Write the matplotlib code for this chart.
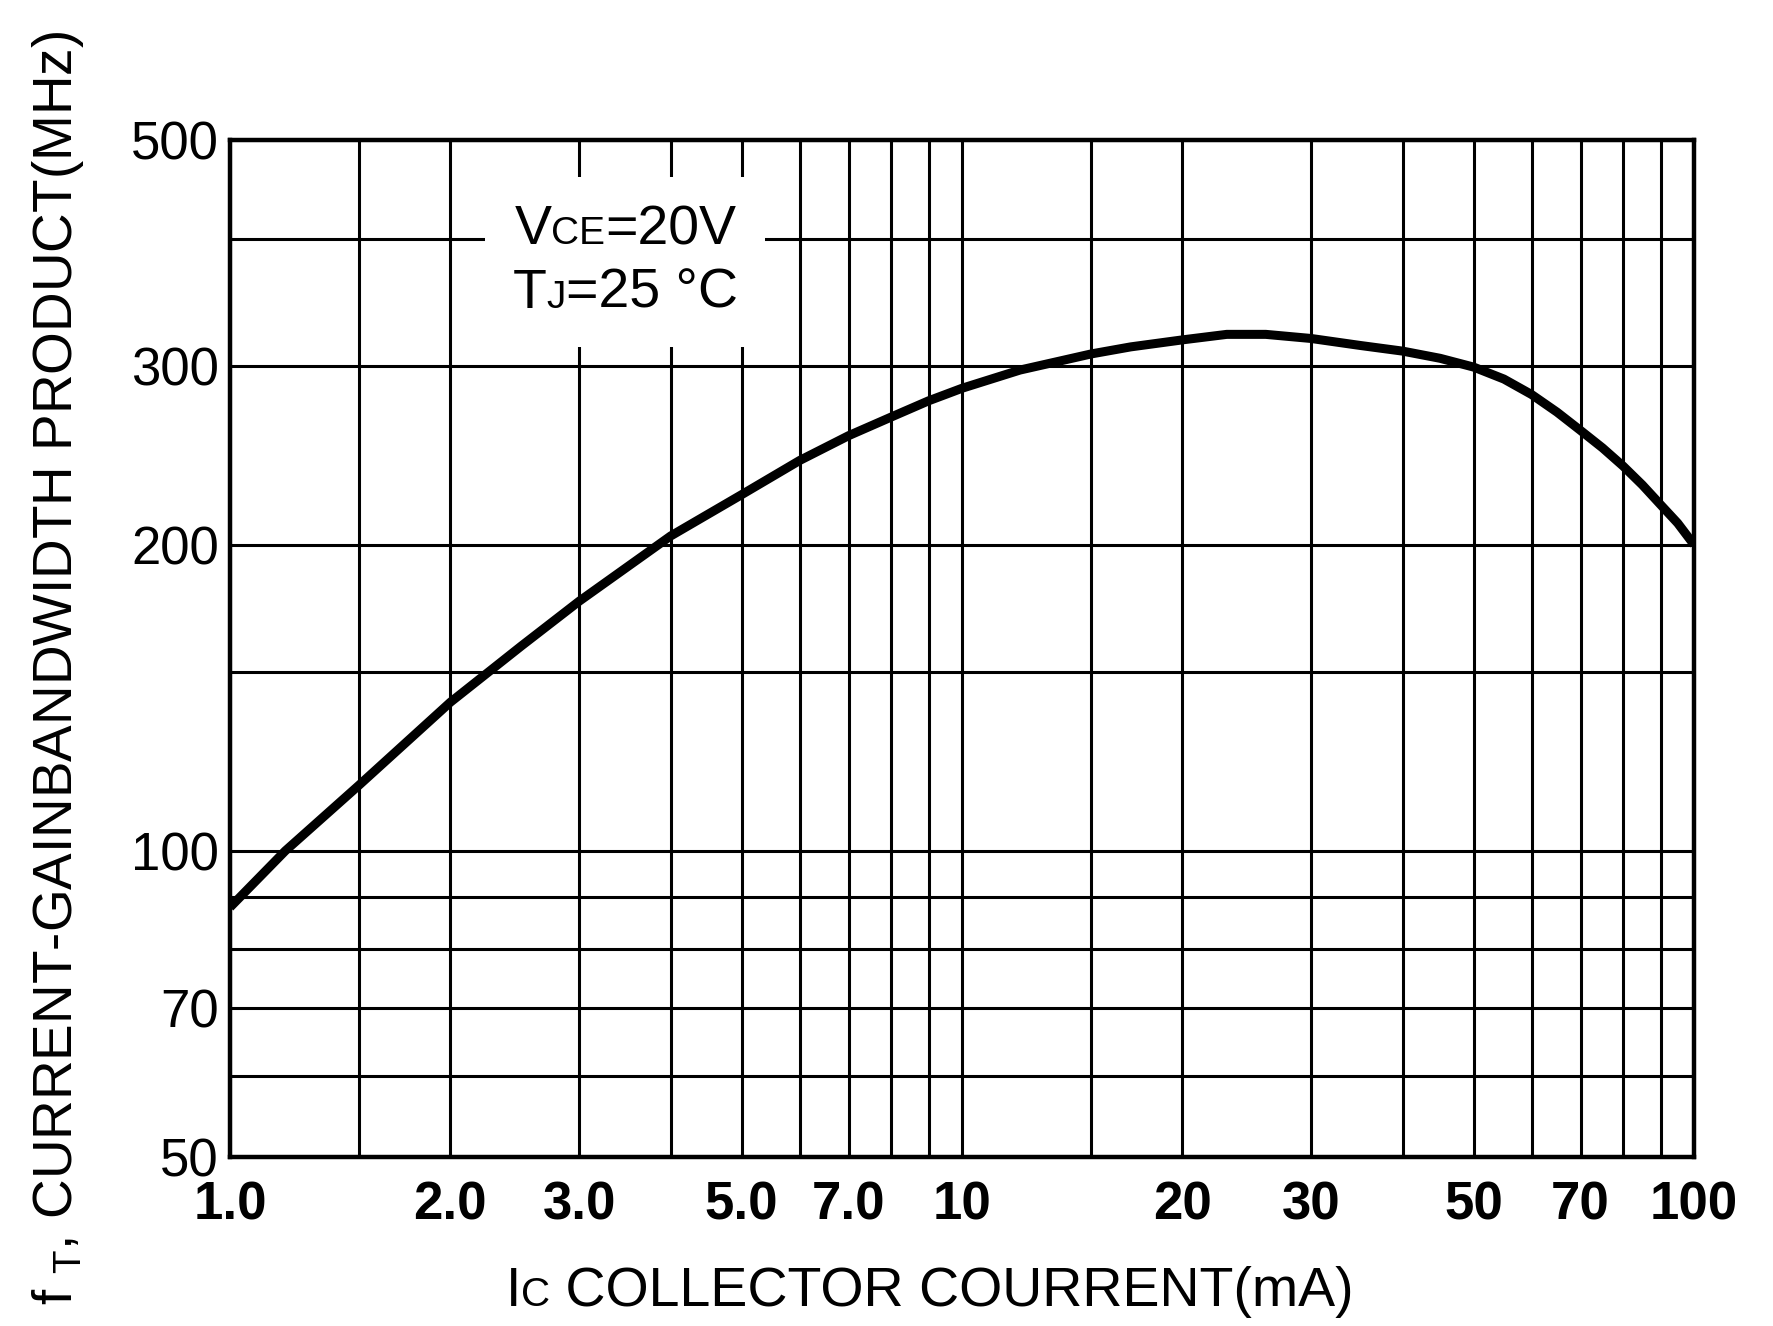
import numpy as np
import matplotlib
matplotlib.use("Agg")
import matplotlib.pyplot as plt
from matplotlib.ticker import FixedLocator, FixedFormatter, NullFormatter
from matplotlib.offsetbox import TextArea, HPacker, VPacker, AnchoredOffsetbox

FONT = ['Liberation Sans', 'DejaVu Sans']

# fT vs Ic
ic_ma = [1, 1.19, 1.5, 2, 2.5, 3, 4, 5, 6, 7, 8, 9, 10, 12, 15, 17, 20, 23, 26,
         30, 35, 40, 45, 50, 55, 60, 65, 70, 75, 80, 85, 90, 95, 100]
ft_mhz = [88, 100, 116, 140, 159, 176, 204, 224, 242, 256, 267, 277, 285, 297, 308, 313, 318, 322, 322,
          319, 314, 310, 305, 299, 291, 281, 270, 259, 249, 239, 229, 219, 210, 200]

x_major = [1, 2, 3, 5, 7, 10, 20, 30, 50, 70, 100]
x_labels = ['1.0', '2.0', '3.0', '5.0', '7.0', '10', '20', '30', '50', '70', '100']
x_minor = [1.5, 4, 6, 8, 9, 15, 40, 60, 80, 90]
y_major = [50, 70, 100, 200, 300, 500]
y_labels = ['50', '70', '100', '200', '300', '500']
y_minor = [60, 80, 90, 150, 400]

W, H = 1774, 1326
fig = plt.figure(figsize=(W / 100, H / 100), dpi=100)
ax = fig.add_axes([230 / W, 1 - 1157 / H, 1464 / W, 1017 / H])

ax.set_xscale('log')
ax.set_yscale('log')
ax.set_xlim(1, 100)
ax.set_ylim(50, 500)

ax.xaxis.set_major_locator(FixedLocator(x_major))
ax.xaxis.set_major_formatter(FixedFormatter(x_labels))
ax.xaxis.set_minor_locator(FixedLocator(x_minor))
ax.xaxis.set_minor_formatter(NullFormatter())
ax.yaxis.set_major_locator(FixedLocator(y_major))
ax.yaxis.set_major_formatter(FixedFormatter(y_labels))
ax.yaxis.set_minor_locator(FixedLocator(y_minor))
ax.yaxis.set_minor_formatter(NullFormatter())

ax.grid(which='both', color='black', lw=2.2)
ax.tick_params(which='both', length=0)
ax.tick_params(axis='x', pad=17)
ax.tick_params(axis='y', pad=8)
for lab in ax.get_xticklabels():
    lab.set_fontfamily(FONT)
    lab.set_fontsize(38)
    lab.set_fontweight('bold')
for lab in ax.get_yticklabels():
    lab.set_fontfamily(FONT)
    lab.set_fontsize(38)
for sp in ax.spines.values():
    sp.set_linewidth(3.2)

ax.plot(ic_ma, ft_mhz, color='black', lw=6.5, solid_capstyle='butt',
        solid_joinstyle='round', zorder=5)

# conditions box
def rich(parts):
    return HPacker(children=[TextArea(t, textprops=dict(size=s, family=FONT, color='black'))
                             for t, s in parts], align='baseline', pad=0, sep=0)

cond = VPacker(children=[rich([('V', 40), ('CE', 28), ('=20V', 40)]),
                         rich([('T', 40), ('J', 28), ('=25 °C', 40)])],
               align='center', pad=0, sep=8)
box = AnchoredOffsetbox(loc='center', child=cond, bbox_to_anchor=(0.270, 0.880),
                        bbox_transform=ax.transAxes, frameon=True, pad=0.55,
                        borderpad=0, prop=dict(size=36))
box.patch.set_facecolor('white')
box.patch.set_edgecolor('none')
box.set_zorder(4)
ax.add_artist(box)

# axis titles
xl = rich([('I', 40), ('C', 29), (' COLLECTOR COURRENT(mA)', 40)])
xbox = AnchoredOffsetbox(loc='center', child=xl, bbox_to_anchor=(930 / W, 1 - 1292 / H),
                         bbox_transform=fig.transFigure, frameon=False, pad=0, borderpad=0)
ax.add_artist(xbox)

fig.text(58 / W, 1 - 668 / H, r'f $_{\mathregular{T}}$, CURRENT-GAINBANDWIDTH PRODUCT(MHz)',
         rotation=90, ha='center', va='center', fontsize=39.5, family=FONT)

fig.savefig('out.png', dpi=100, facecolor='white')
